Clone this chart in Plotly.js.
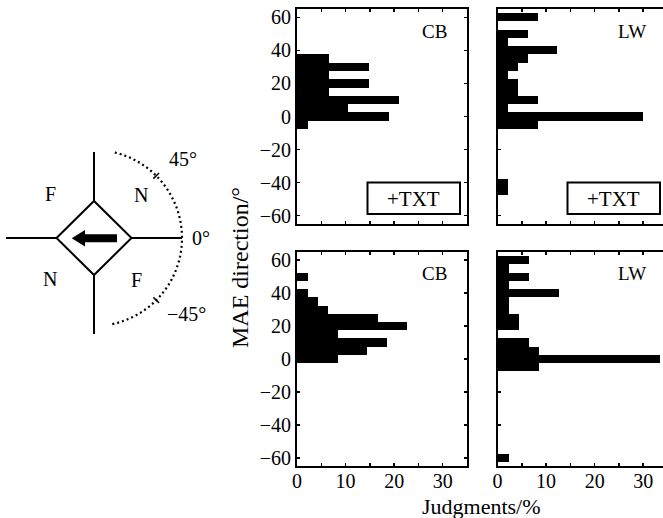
<!DOCTYPE html>
<html>
<head>
<meta charset="utf-8">
<script src="https://cdn.plot.ly/plotly-3.0.1.min.js"></script>
<style>html,body{margin:0;padding:0;background:#fff}#chart{width:663px;height:518px}</style>
</head>
<body>
<div id="chart"></div>
<script>
// ---- data (MAE direction bins in degrees, judgments in %) ----
const cbTxtBins = [35, 30, 25, 20, 15, 10, 5, 0, -5];
const cbTxtVals = [6.6, 14.8, 6.6, 14.8, 6.6, 21.0, 10.6, 19.0, 2.3];

const lwTxtBins = [60, 55, 50, 45, 40, 35, 30, 25, 20, 15, 10, 5, 0, -5, -40, -45];
const lwTxtVals = [8.3, 0, 6.3, 2.2, 12.3, 6.3, 4.2, 2.2, 4.2, 4.2, 8.3, 2.2, 30.0, 8.3, 2.2, 2.2];

const cbBins = [50, 45, 40, 35, 30, 25, 20, 15, 10, 5, 0];
const cbVals = [2.2, 0, 2.2, 4.3, 6.4, 16.6, 22.7, 8.4, 18.5, 14.5, 8.4];

const lwBins = [60, 55, 50, 45, 40, 35, 30, 25, 20, 15, 10, 5, 0, -5, -60];
const lwVals = [6.4, 2.3, 6.4, 2.3, 12.6, 2.3, 2.3, 4.4, 4.4, 0, 6.4, 8.5, 33.5, 8.5, 2.3];

const xTickVals = [0, 5, 10, 15, 20, 25, 30, 35];
const xTickText = ['0', '', '10', '', '20', '', '30', ''];
const yTickVals = [-60, -40, -20, 0, 20, 40, 60];
const panelLabels = ['CB', 'LW', 'CB', 'LW'];
const conditionLabel = '+TXT';
const xTitle = 'Judgments/%';
const yTitle = 'MAE direction/°';

// ---- layout helpers ----
const W = 663, H = 518;
const FONT = 'Liberation Serif, Times New Roman, serif';
const xL = [297 / W, 467 / W], xR = [497.5 / W, 1];
const yT = [1 - 224 / H, 1 - 9 / H], yB = [1 - 466 / H, 1 - 252 / H];

function barTrace(bins, vals, xa, ya) {
  return {
    type: 'bar', orientation: 'h', y: bins, x: vals, width: bins.map(() => 5),
    xaxis: xa, yaxis: ya, marker: {color: '#000', line: {width: 0}},
    hoverinfo: 'skip'
  };
}
const traces = [
  barTrace(cbTxtBins, cbTxtVals, 'x', 'y'),
  barTrace(lwTxtBins, lwTxtVals, 'x2', 'y2'),
  barTrace(cbBins, cbVals, 'x3', 'y3'),
  barTrace(lwBins, lwVals, 'x4', 'y4')
];

function xAxis(domain, anchor, labels, rmax) {
  return {
    domain: domain, anchor: anchor, range: [0, rmax], fixedrange: true,
    tickmode: 'array', tickvals: xTickVals, ticktext: xTickText,
    showticklabels: labels, ticks: 'inside', ticklen: 3, tickwidth: 1.5, tickcolor: '#000',
    ticklabelstandoff: -4,
    showline: true, linewidth: 2, linecolor: '#000', mirror: 'ticks',
    showgrid: false, zeroline: false,
    tickfont: {family: FONT, size: 20, color: '#000'}
  };
}
function yAxis(domain, anchor, labels, mirror) {
  return {
    domain: domain, anchor: anchor, range: [-65, 65], fixedrange: true,
    tickmode: 'array', tickvals: yTickVals,
    showticklabels: labels, ticks: 'inside', ticklen: 3, tickwidth: 1.5, tickcolor: '#000',
    showline: true, linewidth: 2, linecolor: '#000', mirror: mirror,
    showgrid: false, zeroline: false,
    tickfont: {family: FONT, size: 20, color: '#000'}
  };
}
const rRight = (W - 497.5) / (170 / 35);

// pixel-coordinate overlay axis for the diagram and text
const P = {xref: 'x5', yref: 'y5'};
const shapes = [];
const line = (x0, y0, x1, y1, w, dash) => shapes.push(Object.assign({type: 'line', x0, y0, x1, y1,
  line: {color: '#000', width: w || 2, dash: dash || 'solid'}}, P));

// diagram geometry (pixels)
const cx = 94, cy = 238, hx = 37.5, hy = 37;
line(6, cy, cx - hx, cy); line(cx + hx, cy, 182, cy);
line(cx, 152, cx, cy - hy); line(cx, cy + hy, cx, 334);
shapes.push(Object.assign({type: 'path',
  path: `M${cx - hx},${cy} L${cx},${cy - hy} L${cx + hx},${cy} L${cx},${cy + hy} Z`,
  line: {color: '#000', width: 2}}, P));
// arrow
shapes.push(Object.assign({type: 'path',
  path: `M117,234.3 L85,234.3 L85,230 L71.7,238.3 L85,246.6 L85,242.3 L117,242.3 Z`,
  fillcolor: '#000', line: {color: '#000', width: 0}}, P));
// dotted arc
const R = 88;
let arc = '';
for (let a = -78; a <= 78; a += 2) {
  const t = a * Math.PI / 180;
  arc += (arc ? ' L' : 'M') + (cx + R * Math.cos(t)).toFixed(2) + ',' + (cy - R * Math.sin(t)).toFixed(2);
}
shapes.push(Object.assign({type: 'path', path: arc, line: {color: '#000', width: 2.2, dash: '2px,3px'}}, P));
[45, -45].forEach(a => {
  const t = a * Math.PI / 180;
  line(cx + (R - 4) * Math.cos(t), cy - (R - 4) * Math.sin(t), cx + (R + 4) * Math.cos(t), cy - (R + 4) * Math.sin(t), 1.5);
});
// +TXT boxes
[[367.5, 182.5, 460, 214], [567.5, 182.5, 660, 214]].forEach(b => shapes.push(Object.assign({type: 'rect',
  x0: b[0], y0: b[1], x1: b[2], y1: b[3], fillcolor: '#fff', line: {color: '#000', width: 2}}, P)));

const ann = (text, x, y, size, extra) => Object.assign({text, x, y, showarrow: false,
  font: {family: FONT, size: size, color: '#000'}, xanchor: 'center', yanchor: 'middle'}, P, extra || {});
const annotations = [
  ann(panelLabels[0], 434, 31, 19), ann(panelLabels[1], 632, 31, 19),
  ann(panelLabels[2], 434, 273, 19), ann(panelLabels[3], 632, 273, 19),
  ann(conditionLabel, 413.7, 198.5, 21), ann(conditionLabel, 613.7, 198.5, 21),
  ann(xTitle, 481, 506, 22),
  ann(yTitle, 240, 268, 24, {textangle: -90}),
  ann('F', 50, 194, 20), ann('N', 141, 195, 20), ann('N', 50, 279, 20), ann('F', 136, 280, 20),
  ann('45°', 183, 159, 20), ann('0°', 201, 238, 20), ann('−45°', 186, 314, 20)
];

const layout = {
  width: W, height: H, margin: {l: 0, r: 0, t: 0, b: 0, pad: 0},
  paper_bgcolor: '#fff', plot_bgcolor: 'rgba(0,0,0,0)', showlegend: false,
  bargap: 0, font: {family: FONT, color: '#000'},
  xaxis: xAxis(xL, 'y', false, 35), yaxis: yAxis(yT, 'x', true, 'ticks'),
  xaxis2: xAxis(xR, 'y2', false, rRight), yaxis2: yAxis(yT, 'x2', false, false),
  xaxis3: xAxis(xL, 'y3', true, 35), yaxis3: yAxis(yB, 'x3', true, 'ticks'),
  xaxis4: xAxis(xR, 'y4', true, rRight), yaxis4: yAxis(yB, 'x4', false, false),
  xaxis5: {domain: [0, 1], range: [0, W], visible: false, fixedrange: true, anchor: 'y5'},
  yaxis5: {domain: [0, 1], range: [H, 0], visible: false, fixedrange: true, anchor: 'x5'},
  shapes: shapes, annotations: annotations
};

Plotly.newPlot('chart', traces, layout, {staticPlot: true, displayModeBar: false});
</script>
</body>
</html>
